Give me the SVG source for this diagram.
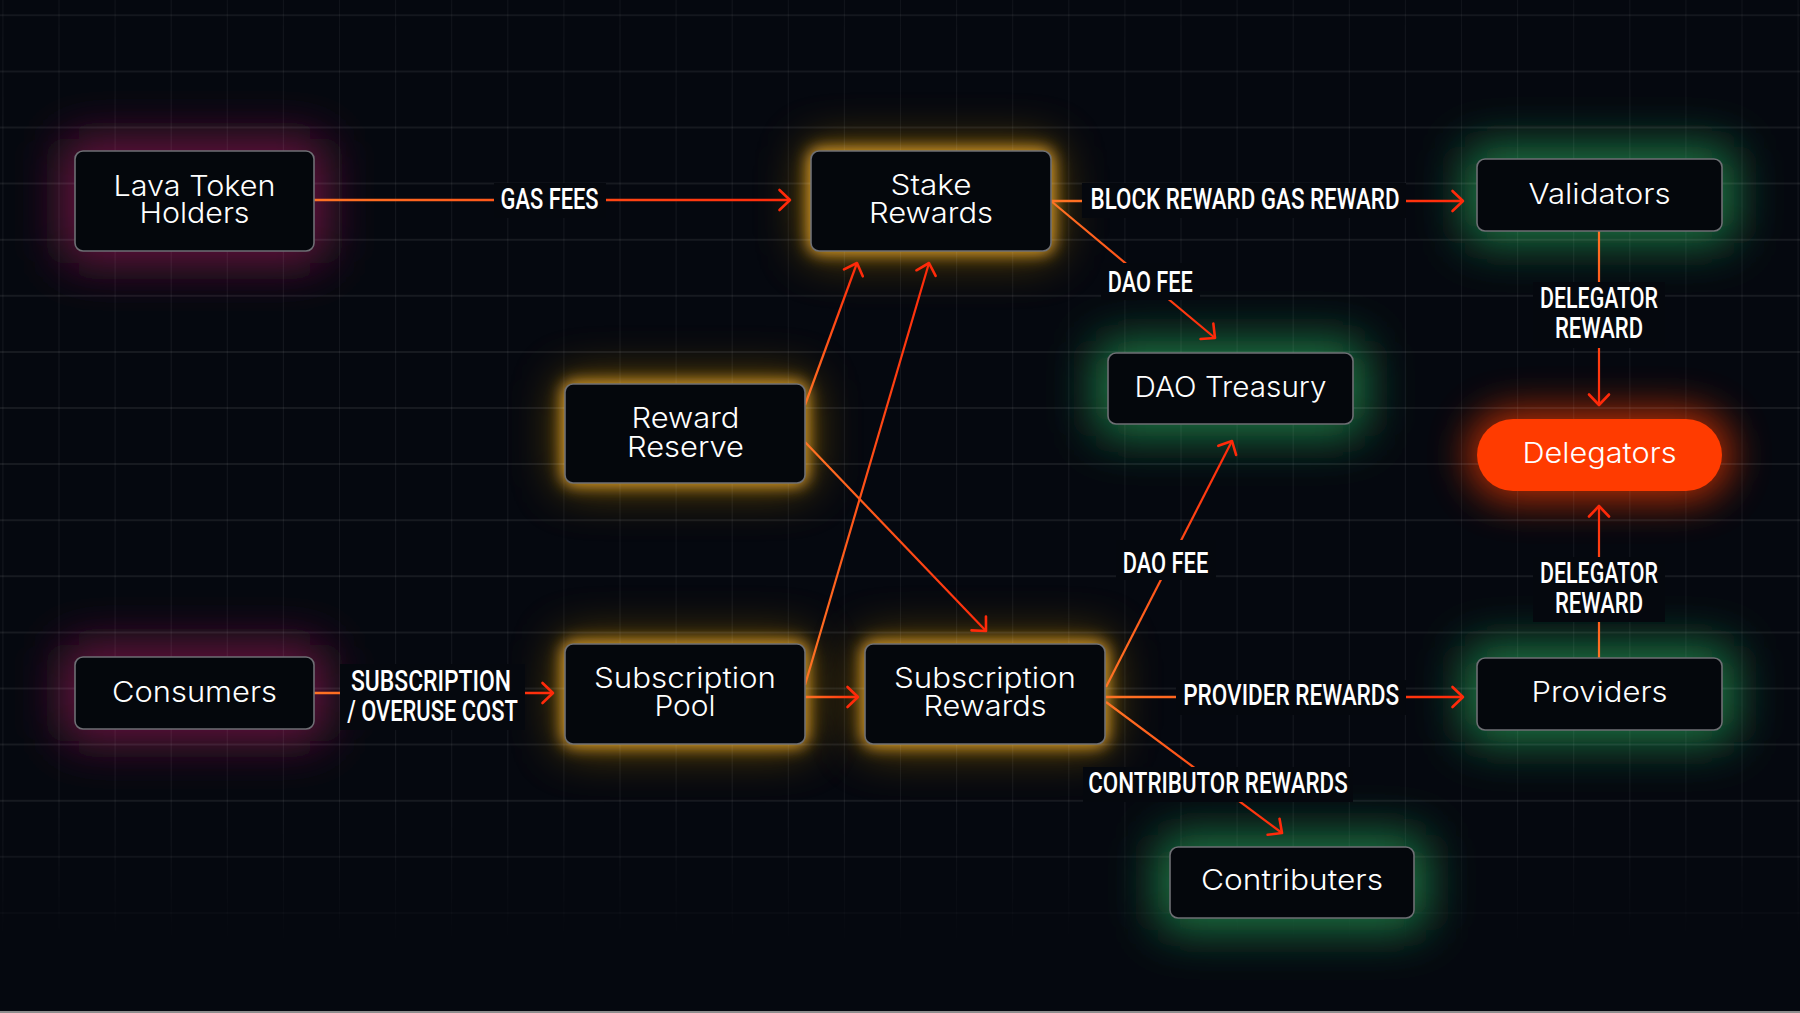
<svg xmlns="http://www.w3.org/2000/svg" width="1800" height="1013" viewBox="0 0 1800 1013">
<style>
.nt{font-family:Inter,"Noto Sans","Liberation Sans",sans-serif;font-size:28px;font-weight:350;fill:#ffffff;text-anchor:middle}
.lb{font-family:Roboto,"Liberation Sans",sans-serif;font-weight:500;font-size:29px;fill:#ffffff;text-anchor:middle}
.box{fill:#04070c;stroke:#6e6f74;stroke-width:1.6}
.lbg{fill:#05080e}
.e{fill:none;stroke-width:2.2;marker-end:url(#arr)}
.eh{fill:none;stroke-width:2.7;marker-end:url(#arr)}
.gm{fill:#6a1440;filter:url(#fM)}
.ga{fill:#e0a020;filter:url(#fA)}
.ga2{fill:#8a6010;opacity:0.7;filter:url(#fM)}
.gg{fill:#1a7a45;filter:url(#fG)}
</style>
<defs>
<marker id="arr" markerUnits="userSpaceOnUse" markerWidth="30" markerHeight="30" viewBox="-15 -15 30 30" refX="0" refY="0" orient="auto" overflow="visible">
<path d="M-10.5,-10 L0,0 L-10.5,10" fill="none" stroke="#ff2a0a" stroke-width="2.6" stroke-linecap="round" stroke-linejoin="round"/>
</marker>
<filter id="fM" x="-60%" y="-120%" width="220%" height="340%"><feGaussianBlur stdDeviation="24"/></filter>
<filter id="fA" x="-60%" y="-120%" width="220%" height="340%"><feGaussianBlur stdDeviation="8"/></filter>
<filter id="fG" x="-60%" y="-120%" width="220%" height="340%"><feGaussianBlur stdDeviation="24"/></filter>
<filter id="fR" x="-60%" y="-120%" width="220%" height="340%"><feGaussianBlur stdDeviation="20"/></filter>
<linearGradient id="fade" x1="0" y1="0" x2="0" y2="1013" gradientUnits="userSpaceOnUse">
<stop offset="0" stop-color="#fff" stop-opacity="0.8"/>
<stop offset="0.15" stop-color="#fff" stop-opacity="1"/>
<stop offset="0.8" stop-color="#fff" stop-opacity="1"/>
<stop offset="0.94" stop-color="#fff" stop-opacity="0"/>
</linearGradient>
<mask id="gmask"><rect x="0" y="0" width="1800" height="1013" fill="url(#fade)"/></mask>
<linearGradient id="g1" gradientUnits="userSpaceOnUse" x1="314" y1="200" x2="790" y2="200"><stop offset="0" stop-color="#ff7424"/><stop offset="1" stop-color="#ff2a0a"/></linearGradient>
<linearGradient id="g2" gradientUnits="userSpaceOnUse" x1="1051" y1="201" x2="1463" y2="201"><stop offset="0" stop-color="#ff7424"/><stop offset="1" stop-color="#ff2a0a"/></linearGradient>
<linearGradient id="g3" gradientUnits="userSpaceOnUse" x1="1051" y1="201" x2="1215" y2="338"><stop offset="0" stop-color="#ff7424"/><stop offset="1" stop-color="#ff2a0a"/></linearGradient>
<linearGradient id="g4" gradientUnits="userSpaceOnUse" x1="1599" y1="231" x2="1599" y2="405"><stop offset="0" stop-color="#ff7424"/><stop offset="1" stop-color="#ff2a0a"/></linearGradient>
<linearGradient id="g5" gradientUnits="userSpaceOnUse" x1="1599" y1="658" x2="1599" y2="506"><stop offset="0" stop-color="#ff7424"/><stop offset="1" stop-color="#ff2a0a"/></linearGradient>
<linearGradient id="g6" gradientUnits="userSpaceOnUse" x1="805" y1="405" x2="857" y2="263"><stop offset="0" stop-color="#ff7424"/><stop offset="1" stop-color="#ff2a0a"/></linearGradient>
<linearGradient id="g7" gradientUnits="userSpaceOnUse" x1="805" y1="442" x2="986" y2="631"><stop offset="0" stop-color="#ff7424"/><stop offset="1" stop-color="#ff2a0a"/></linearGradient>
<linearGradient id="g8" gradientUnits="userSpaceOnUse" x1="805" y1="685" x2="929" y2="263"><stop offset="0" stop-color="#ff7424"/><stop offset="1" stop-color="#ff2a0a"/></linearGradient>
<linearGradient id="g9" gradientUnits="userSpaceOnUse" x1="805" y1="697" x2="858" y2="697"><stop offset="0" stop-color="#ff7424"/><stop offset="1" stop-color="#ff2a0a"/></linearGradient>
<linearGradient id="g10" gradientUnits="userSpaceOnUse" x1="314" y1="693" x2="553" y2="693"><stop offset="0" stop-color="#ff7424"/><stop offset="1" stop-color="#ff2a0a"/></linearGradient>
<linearGradient id="g11" gradientUnits="userSpaceOnUse" x1="1106" y1="687" x2="1232" y2="441"><stop offset="0" stop-color="#ff7424"/><stop offset="1" stop-color="#ff2a0a"/></linearGradient>
<linearGradient id="g12" gradientUnits="userSpaceOnUse" x1="1105" y1="697" x2="1463" y2="697"><stop offset="0" stop-color="#ff7424"/><stop offset="1" stop-color="#ff2a0a"/></linearGradient>
<linearGradient id="g13" gradientUnits="userSpaceOnUse" x1="1106" y1="702" x2="1282" y2="833"><stop offset="0" stop-color="#ff7424"/><stop offset="1" stop-color="#ff2a0a"/></linearGradient>
</defs>

<rect x="0" y="0" width="1800" height="1013" fill="#05080f"/>

<g id="glows">
<rect class="gm" x="63" y="139" width="263" height="124" rx="16"/>
<rect class="gm" x="63" y="645" width="263" height="96" rx="16"/>
<rect class="ga2" x="805" y="145" width="252" height="112" rx="14"/>
<rect class="ga2" x="559" y="378" width="252" height="111" rx="14"/>
<rect class="ga2" x="559" y="638" width="252" height="112" rx="14"/>
<rect class="ga2" x="859" y="638" width="252" height="112" rx="14"/>
<rect class="ga" x="808" y="148" width="246" height="106" rx="12"/>
<rect class="ga" x="562" y="381" width="246" height="105" rx="12"/>
<rect class="ga" x="562" y="641" width="246" height="106" rx="12"/>
<rect class="ga" x="862" y="641" width="246" height="106" rx="12"/>
<rect class="gg" x="1465" y="147" width="269" height="96" rx="16"/>
<rect class="gg" x="1096" y="341" width="269" height="95" rx="16"/>
<rect class="gg" x="1465" y="646" width="269" height="96" rx="16"/>
<rect class="gg" x="1158" y="835" width="268" height="95" rx="16"/>
<rect x="1469" y="411" width="261" height="88" rx="44" fill="#ff3d00" opacity="0.75" filter="url(#fR)"/>
</g>

<g id="grid" mask="url(#gmask)">
<path fill="none" stroke="#ffffff" stroke-opacity="0.06" stroke-width="1.2" d="M2.9,0V1013M59,0V1013M115.1,0V1013M171.2,0V1013M227.3,0V1013M283.4,0V1013M339.5,0V1013M395.6,0V1013M451.7,0V1013M507.8,0V1013M563.9,0V1013M620,0V1013M676.1,0V1013M732.2,0V1013M788.3,0V1013M844.4,0V1013M900.5,0V1013M956.6,0V1013M1012.7,0V1013M1068.8,0V1013M1124.9,0V1013M1181,0V1013M1237.1,0V1013M1293.2,0V1013M1349.3,0V1013M1405.4,0V1013M1461.5,0V1013M1517.6,0V1013M1573.7,0V1013M1629.8,0V1013M1685.9,0V1013M1742,0V1013M1798.1,0V1013"/>
<path fill="none" stroke="#ffffff" stroke-opacity="0.075" stroke-width="2" d="M0,15.3H1800M0,71.4H1800M0,127.5H1800M0,183.6H1800M0,239.7H1800M0,295.8H1800M0,351.9H1800M0,408H1800M0,464.1H1800M0,520.2H1800M0,576.3H1800M0,632.4H1800M0,688.5H1800M0,744.6H1800M0,800.7H1800M0,856.8H1800M0,912.9H1800M0,969H1800"/>
</g>

<g id="connectors">
<path class="eh" stroke="url(#g1)" d="M314,200 L790,200"/>
<path class="eh" stroke="url(#g2)" d="M1051,201 L1463,201"/>
<path class="e" stroke="url(#g3)" d="M1051,201 L1215,338"/>
<path class="e" stroke="url(#g4)" d="M1599,231 L1599,405"/>
<path class="e" stroke="url(#g5)" d="M1599,658 L1599,506"/>
<path class="e" stroke="url(#g6)" d="M805,405 L857,263"/>
<path class="e" stroke="url(#g7)" d="M805,442 L986,631"/>
<path class="e" stroke="url(#g8)" d="M805,685 L929,263"/>
<path class="eh" stroke="url(#g9)" d="M805,697 L858,697"/>
<path class="eh" stroke="url(#g10)" d="M314,693 L553,693"/>
<path class="e" stroke="url(#g11)" d="M1106,687 L1232,441"/>
<path class="eh" stroke="url(#g12)" d="M1105,697 L1463,697"/>
<path class="e" stroke="url(#g13)" d="M1106,702 L1282,833"/>

<rect class="lbg" x="494" y="183" width="112" height="35"/>
<text class="lb" x="549.6" y="209.3" textLength="98" lengthAdjust="spacingAndGlyphs">GAS FEES</text>
<rect class="lbg" x="1082" y="183" width="324" height="35"/>
<text class="lb" x="1245" y="209.3" textLength="309" lengthAdjust="spacingAndGlyphs">BLOCK REWARD GAS REWARD</text>
<rect class="lbg" x="1101" y="263" width="99" height="37"/>
<text class="lb" x="1150.3" y="291.7" textLength="85" lengthAdjust="spacingAndGlyphs">DAO FEE</text>
<rect class="lbg" x="1533" y="282" width="132" height="66"/>
<text class="lb"><tspan x="1599" y="308" textLength="118" lengthAdjust="spacingAndGlyphs">DELEGATOR</tspan><tspan x="1599" y="338" textLength="88" lengthAdjust="spacingAndGlyphs">REWARD</tspan></text>
<rect class="lbg" x="1533" y="557" width="132" height="65"/>
<text class="lb"><tspan x="1599" y="583.3" textLength="118" lengthAdjust="spacingAndGlyphs">DELEGATOR</tspan><tspan x="1599" y="613.3" textLength="88" lengthAdjust="spacingAndGlyphs">REWARD</tspan></text>
<rect class="lbg" x="340" y="664" width="185" height="66"/>
<text class="lb"><tspan x="431" y="690.7" textLength="160" lengthAdjust="spacingAndGlyphs">SUBSCRIPTION</tspan><tspan x="432.5" y="720.7" textLength="170.5" lengthAdjust="spacingAndGlyphs">/ OVERUSE COST</tspan></text>
<rect class="lbg" x="1116" y="540" width="100" height="40"/>
<text class="lb" x="1165.5" y="572.7" textLength="85.6" lengthAdjust="spacingAndGlyphs">DAO FEE</text>
<rect class="lbg" x="1176" y="680" width="230" height="35"/>
<text class="lb" x="1291.2" y="705" textLength="216" lengthAdjust="spacingAndGlyphs">PROVIDER REWARDS</text>
<rect class="lbg" x="1083" y="767" width="270" height="35"/>
<text class="lb" x="1218" y="793.3" textLength="259.5" lengthAdjust="spacingAndGlyphs">CONTRIBUTOR REWARDS</text>
</g>

<g id="lava-token-holders">
<rect class="box" x="75" y="151" width="239" height="100" rx="8"/>
<text class="nt"><tspan x="194.5" y="195.7" textLength="162" lengthAdjust="spacingAndGlyphs">Lava Token</tspan><tspan x="194.5" y="223.3" textLength="110" lengthAdjust="spacingAndGlyphs">Holders</tspan></text>
</g>
<g id="stake-rewards">
<rect class="box" x="811" y="151" width="240" height="100" rx="8"/>
<text class="nt"><tspan x="931" y="194.5" textLength="81" lengthAdjust="spacingAndGlyphs">Stake</tspan><tspan x="931" y="223.3" textLength="124" lengthAdjust="spacingAndGlyphs">Rewards</tspan></text>
</g>
<g id="validators">
<rect class="box" x="1477" y="159" width="245" height="72" rx="8"/>
<text class="nt" x="1599.5" y="204" textLength="142" lengthAdjust="spacingAndGlyphs">Validators</text>
</g>
<g id="dao-treasury">
<rect class="box" x="1108" y="353" width="245" height="71" rx="8"/>
<text class="nt" x="1230.5" y="396.7" textLength="192" lengthAdjust="spacingAndGlyphs">DAO Treasury</text>
</g>
<g id="delegators">
<rect x="1477" y="419" width="245" height="72" rx="36" fill="#ff3b00"/>
<text class="nt" x="1599.5" y="463.3" textLength="154" lengthAdjust="spacingAndGlyphs">Delegators</text>
</g>
<g id="reward-reserve">
<rect class="box" x="565" y="384" width="240" height="99" rx="8"/>
<text class="nt"><tspan x="685.5" y="428.3" textLength="108" lengthAdjust="spacingAndGlyphs">Reward</tspan><tspan x="685.5" y="456.7" textLength="117" lengthAdjust="spacingAndGlyphs">Reserve</tspan></text>
</g>
<g id="consumers">
<rect class="box" x="75" y="657" width="239" height="72" rx="8"/>
<text class="nt" x="194.5" y="701.7" textLength="165" lengthAdjust="spacingAndGlyphs">Consumers</text>
</g>
<g id="subscription-pool">
<rect class="box" x="565" y="644" width="240" height="100" rx="8"/>
<text class="nt"><tspan x="685" y="687.7" textLength="182" lengthAdjust="spacingAndGlyphs">Subscription</tspan><tspan x="685" y="715.7" textLength="61" lengthAdjust="spacingAndGlyphs">Pool</tspan></text>
</g>
<g id="subscription-rewards">
<rect class="box" x="865" y="644" width="240" height="100" rx="8"/>
<text class="nt"><tspan x="985" y="687.7" textLength="182" lengthAdjust="spacingAndGlyphs">Subscription</tspan><tspan x="985" y="715.7" textLength="123" lengthAdjust="spacingAndGlyphs">Rewards</tspan></text>
</g>
<g id="providers">
<rect class="box" x="1477" y="658" width="245" height="72" rx="8"/>
<text class="nt" x="1599.5" y="701.7" textLength="136" lengthAdjust="spacingAndGlyphs">Providers</text>
</g>
<g id="contributers">
<rect class="box" x="1170" y="847" width="244" height="71" rx="8"/>
<text class="nt" x="1292" y="890" textLength="182" lengthAdjust="spacingAndGlyphs">Contributers</text>
</g>
<rect x="0" y="1011" width="1800" height="2" fill="#8c8c8c"/>
</svg>
